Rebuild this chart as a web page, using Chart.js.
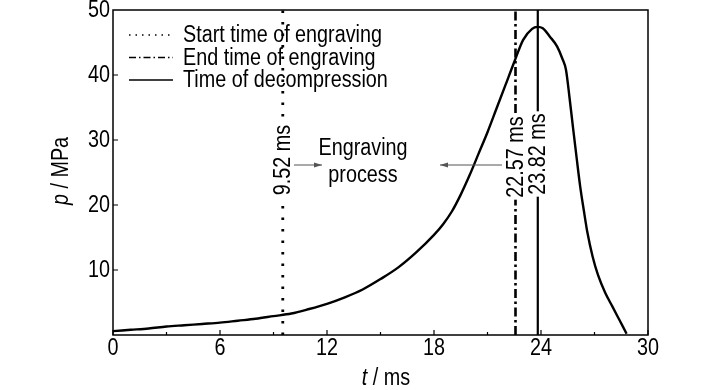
<!DOCTYPE html>
<html>
<head>
<meta charset="utf-8">
<script src="https://cdn.jsdelivr.net/npm/chart.js@4.4.1/dist/chart.umd.min.js"></script>
<style>
  html, body { margin: 0; padding: 0; background: #fff; }
  #wrap { width: 728px; height: 390px; position: relative; }
</style>
</head>
<body>
<div id="wrap"><canvas id="chart"></canvas></div>
<script>
// pressure curve
const timeMs = [0, 1, 2, 3, 4, 5, 6, 7, 8, 9, 10, 11, 12, 13, 14, 15, 16, 17, 18, 18.5, 19, 19.5, 20, 20.5, 21, 21.5, 22, 22.5, 23, 23.5, 23.8, 24.1, 24.5, 24.9, 25.2, 25.4, 25.6, 25.8, 26, 26.2, 26.4, 26.6, 26.9, 27.2, 27.6, 28, 28.4, 28.8];
const pressureMPa = [0.6, 0.8, 1.0, 1.3, 1.5, 1.7, 1.9, 2.2, 2.5, 2.9, 3.3, 4.0, 4.8, 5.8, 7.0, 8.6, 10.4, 12.7, 15.4, 17.0, 19.0, 21.6, 24.6, 27.9, 31.2, 34.8, 38.4, 42.0, 45.4, 47.1, 47.4, 47.2, 45.9, 44.4, 42.5, 40.8, 36.5, 31.8, 27.2, 22.8, 19.2, 15.8, 12.0, 9.2, 6.5, 4.4, 2.3, 0.2];

const markerTimes = [9.52, 22.57, 23.82];
const markerLabels = ['9.52 ms', '22.57 ms', '23.82 ms'];
const legendLabels = ['Start time of engraving', 'End time of engraving', 'Time of decompression'];
const markerDash = [[2.5, 9], [9, 3.5, 2.5, 3.5], []];
const legendDash = [[1.5, 5], [7, 3, 1.5, 3], []];
const markerWidth = [2.8, 2.6, 2.2];

const xTickStep = 6;
const yTickStep = 10;

const FONT = '"Liberation Sans", Arial, sans-serif';
const SQUEEZE = 0.86; // the original type is a narrow face

const curvePoints = timeMs.map((t, i) => ({ x: t, y: pressureMPa[i] }));

const markerSets = markerTimes.map((t, i) => ({
    data: [{ x: t, y: 0 }, { x: t, y: 50 }],
    borderColor: '#000',
    borderWidth: markerWidth[i],
    borderDash: markerDash[i],
    borderCapStyle: 'butt',
    pointRadius: 0,
}));

// narrow text: parts = [[text, italic?], ...]
const narrowText = function (ctx, parts, x, y, align, rot, size) {
    ctx.save();
    ctx.translate(x, y);
    ctx.rotate(rot || 0);
    ctx.scale(SQUEEZE, 1);
    ctx.textBaseline = 'middle';
    ctx.textAlign = 'left';
    let total = 0;
    for (const p of parts) {
        ctx.font = (p[1] ? 'italic ' : '') + size + 'px ' + FONT;
        total += ctx.measureText(p[0]).width;
    }
    let cx = align === 'center' ? -total / 2 : align === 'right' ? -total : 0;
    for (const p of parts) {
        ctx.font = (p[1] ? 'italic ' : '') + size + 'px ' + FONT;
        ctx.fillText(p[0], cx, 0);
        cx += ctx.measureText(p[0]).width;
    }
    ctx.restore();
    return total * SQUEEZE;
};

const decorPlugin = {
    id: 'decor',
    afterDatasetsDraw(chart) {
        const ctx = chart.ctx;
        const xs = chart.scales.x;
        ctx.save();

        // marker labels, rotated, on white
        const labelCenters = [160, 157, 154];
        markerTimes.forEach((t, i) => {
            const px = xs.getPixelForValue(t);
            ctx.font = '23px ' + FONT;
            const w = ctx.measureText(markerLabels[i]).width * SQUEEZE;
            ctx.fillStyle = '#fff';
            ctx.fillRect(px - 8, labelCenters[i] - w / 2 - 2, 16, w + 4);
            ctx.fillStyle = '#000';
            narrowText(ctx, [[markerLabels[i]]], px + 1, labelCenters[i], 'center', -Math.PI / 2, 23);
        });

        // engraving process text + arrows
        ctx.fillStyle = '#000';
        narrowText(ctx, [['Engraving']], 363, 149, 'center', 0, 23);
        narrowText(ctx, [['process']], 363, 176, 'center', 0, 23);
        ctx.strokeStyle = '#555';
        ctx.fillStyle = '#555';
        ctx.lineWidth = 1;
        const arrow = (x1, x2, y) => {
            ctx.beginPath();
            ctx.moveTo(x1, y);
            ctx.lineTo(x2, y);
            ctx.stroke();
            const d = x2 > x1 ? 1 : -1;
            ctx.beginPath();
            ctx.moveTo(x2, y);
            ctx.lineTo(x2 - d * 8, y - 2.5);
            ctx.lineTo(x2 - d * 8, y + 2.5);
            ctx.closePath();
            ctx.fill();
        };
        arrow(294, 322, 165);
        arrow(502, 440, 165);

        // legend
        ctx.fillStyle = '#000';
        ctx.strokeStyle = '#000';
        legendLabels.forEach((lab, i) => {
            const y = 35 + i * 22.5;
            ctx.setLineDash(legendDash[i]);
            ctx.lineWidth = 1.5;
            ctx.beginPath();
            ctx.moveTo(129, y);
            ctx.lineTo(173, y);
            ctx.stroke();
            ctx.setLineDash([]);
            narrowText(ctx, [[lab]], 183, y + 1, 'left', 0, 23);
        });
        ctx.restore();
    },
    afterDraw(chart) {
        const ctx = chart.ctx;
        const xs = chart.scales.x;
        const ys = chart.scales.y;
        const a = chart.chartArea;
        ctx.save();
        ctx.strokeStyle = '#000';
        ctx.lineWidth = 1.5;
        ctx.strokeRect(a.left, a.top, a.right - a.left, a.bottom - a.top);

        // inward ticks
        ctx.lineWidth = 1.2;
        ctx.beginPath();
        for (let v = 0; v <= 30; v += xTickStep / 2) {
            const px = xs.getPixelForValue(v);
            const len = (v % xTickStep === 0) ? 5 : 3;
            ctx.moveTo(px, a.bottom);
            ctx.lineTo(px, a.bottom - len);
        }
        for (let v = yTickStep; v < 50; v += yTickStep) {
            const py = ys.getPixelForValue(v);
            ctx.moveTo(a.left, py);
            ctx.lineTo(a.left + 5, py);
        }
        ctx.stroke();

        // tick labels
        ctx.fillStyle = '#000';
        for (let v = 0; v <= 30; v += xTickStep) {
            narrowText(ctx, [[String(v)]], xs.getPixelForValue(v), a.bottom + 14, 'center', 0, 23);
        }
        for (let v = yTickStep; v <= 50; v += yTickStep) {
            narrowText(ctx, [[String(v)]], a.left - 3, ys.getPixelForValue(v) + 1, 'right', 0, 23);
        }

        // axis titles
        narrowText(ctx, [['t', true], [' / ms']], 386, 379, 'center', 0, 23);
        narrowText(ctx, [['p', true], [' / MPa']], 62, 171, 'center', -Math.PI / 2, 23);
        ctx.restore();
    }
};

const config = {
    type: 'line',
    data: {
        datasets: [
            {
                data: curvePoints,
                borderColor: '#000',
                borderWidth: 2.4,
                pointRadius: 0,
                cubicInterpolationMode: 'monotone',
            },
            ...markerSets,
        ],
    },
    options: {
        responsive: false,
        animation: false,
        layout: { padding: { top: 10, right: 80, left: 0, bottom: 0 } },
        plugins: {
            legend: { display: false },
            tooltip: { enabled: false },
        },
        scales: {
            x: {
                type: 'linear',
                min: 0,
                max: 30,
                grid: { display: false },
                border: { display: false },
                afterFit(scale) { scale.height = 55; },
                ticks: { display: false, stepSize: xTickStep },
            },
            y: {
                min: 0,
                max: 50,
                grid: { display: false },
                border: { display: false },
                afterFit(scale) { scale.width = 113; },
                ticks: { display: false, stepSize: yTickStep },
            },
        },
    },
    plugins: [decorPlugin],
};

const init = function () {
    const canvas = document.querySelector('#chart');
    canvas.width = 728;
    canvas.height = 390;
    new Chart(canvas, config);
};

document.addEventListener('DOMContentLoaded', init);
</script>
</body>
</html>
